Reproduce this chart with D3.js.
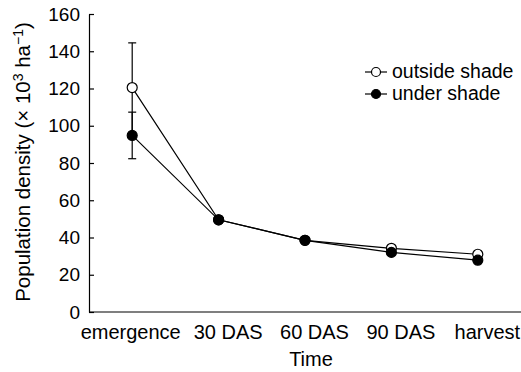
<!DOCTYPE html>
<html>
<head>
<meta charset="utf-8">
<script src="https://cdn.jsdelivr.net/npm/d3@7"></script>
<style>
  body { margin: 0; background: #fff; }
  svg text { font-family: "Liberation Sans", Arial, sans-serif; fill: #000; }
</style>
</head>
<body>
<div id="chart"></div>
<script>
// =====================
// DATA
// =====================
const categories = ["emergence", "30 DAS", "60 DAS", "90 DAS", "harvest"];
const outsideShade = [120.5, 49.5, 38.5, 34.2, 31];
const underShade = [94.8, 49.5, 38.5, 32, 27.8];
// error bars (only at emergence)
const outsideErr = [24, null, null, null, null];
const underErr = [12.5, null, null, null, null];
const yTicks = [0, 20, 40, 60, 80, 100, 120, 140, 160];

const series = [
  { name: "outside shade", values: outsideShade, err: outsideErr, fill: "#fff" },
  { name: "under shade", values: underShade, err: underErr, fill: "#000" }
];

// =====================
// SVG SETUP
// =====================
const W = 521, H = 372;
const margin = { top: 14, right: 0, bottom: 60, left: 89 };

const svg = d3.select("#chart").append("svg")
  .attr("width", W)
  .attr("height", H);

const x = d3.scalePoint()
  .domain(categories)
  .range([margin.left, W - margin.right])
  .padding(0.5);

const y = d3.scaleLinear()
  .domain([0, 160])
  .range([H - margin.bottom, margin.top]);

// =====================
// AXES
// =====================
const yAxis = svg.append("g")
  .attr("transform", `translate(${margin.left},0)`)
  .call(d3.axisLeft(y).tickValues(yTicks).tickSize(-5).tickPadding(9).tickSizeOuter(0));
yAxis.selectAll("text").style("font-size", "19px");
yAxis.selectAll("line, path").attr("stroke", "#000").attr("stroke-width", 1.2);

const xAxis = svg.append("g")
  .attr("transform", `translate(0,${y(0)})`)
  .call(d3.axisBottom(x).tickSize(0).tickSizeOuter(0));
xAxis.select(".domain").attr("d", `M${margin.left},0H${W}`).attr("stroke", "#000").attr("stroke-width", 1.2);
// labels sit slightly right of their points, long first label pulled left
xAxis.selectAll("text")
  .attr("y", 27)
  .attr("dy", 0)
  .attr("dx", (d, i) => i === 0 ? -2 : 9)
  .style("font-size", "20px");

svg.append("text")
  .attr("x", 311)
  .attr("y", 366)
  .attr("text-anchor", "middle")
  .style("font-size", "20px")
  .text("Time");

const yl = svg.append("text")
  .attr("transform", `translate(30,162) rotate(-90)`)
  .attr("text-anchor", "middle")
  .style("font-size", "20.5px");
yl.append("tspan").text("Population density (× 10");
yl.append("tspan").attr("dy", -7).style("font-size", "14px").text("3");
yl.append("tspan").attr("dy", 7).text(" ha");
yl.append("tspan").attr("dy", -7).style("font-size", "14px").text("−1");
yl.append("tspan").attr("dy", 7).text(")");

// =====================
// ERROR BARS
// =====================
series.forEach(s => {
  s.values.forEach((v, i) => {
    if (s.err[i] == null) return;
    const cx = x(categories[i]);
    svg.append("line")
      .attr("x1", cx).attr("x2", cx)
      .attr("y1", y(v - s.err[i])).attr("y2", y(v + s.err[i]))
      .attr("stroke", "#000").attr("stroke-width", 1.2);
    [v - s.err[i], v + s.err[i]].forEach(e => {
      svg.append("line")
        .attr("x1", cx - 4).attr("x2", cx + 4)
        .attr("y1", y(e)).attr("y2", y(e))
        .attr("stroke", "#000").attr("stroke-width", 1.2);
    });
  });
});

// =====================
// LINES + MARKERS
// =====================
const line = d3.line()
  .x((d, i) => x(categories[i]))
  .y(d => y(d));

series.forEach(s => {
  svg.append("path")
    .attr("d", line(s.values))
    .attr("fill", "none")
    .attr("stroke", "#000")
    .attr("stroke-width", 1.2);
});

series.forEach(s => {
  svg.selectAll(null)
    .data(s.values)
    .join("circle")
    .attr("cx", (d, i) => x(categories[i]))
    .attr("cy", d => y(d))
    .attr("r", 5)
    .attr("fill", s.fill)
    .attr("stroke", "#000")
    .attr("stroke-width", 1.2);
});

// =====================
// LEGEND
// =====================
const legend = svg.append("g")
  .attr("transform", "translate(365,72)");

const items = legend.selectAll("g")
  .data(series)
  .join("g")
  .attr("transform", (d, i) => `translate(0,${i * 22})`);

items.append("line")
  .attr("x1", 0).attr("x2", 22)
  .attr("stroke", "#000").attr("stroke-width", 1.2);

items.append("circle")
  .attr("cx", 11)
  .attr("r", 4.5)
  .attr("fill", d => d.fill)
  .attr("stroke", "#000")
  .attr("stroke-width", 1.2);

items.append("text")
  .attr("x", 27)
  .attr("y", 6)
  .style("font-size", "19.5px")
  .text(d => d.name);
</script>
</body>
</html>
